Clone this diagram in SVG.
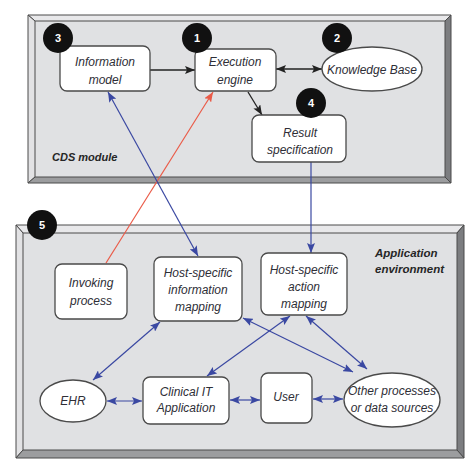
<svg xmlns="http://www.w3.org/2000/svg" width="474" height="466" viewBox="0 0 474 466">
<defs>
<style>
.bg{fill:#ffffff}
.pin{fill:#e0e1e3}
.edge{stroke:#4a4a4a;stroke-width:1;stroke-linejoin:round}
.bt{fill:#e8e8ea}
.bl{fill:#e2e2e4}
.br{fill:#7c7d80}
.bb{fill:#9c9d9f}
.node{fill:#ffffff;stroke:#4a4a4a;stroke-width:1.3}
.t{font-family:"Liberation Sans",Arial,sans-serif;font-style:italic;font-size:12px;fill:#2e2e36;text-anchor:middle}
.lbl{font-family:"Liberation Sans",Arial,sans-serif;font-style:italic;font-weight:bold;fill:#262626}
.badge{fill:#111111}
.num{font-family:"Liberation Sans",Arial,sans-serif;font-weight:bold;font-size:11px;fill:#ffffff;text-anchor:middle}
.k{stroke:#222222;stroke-width:1.3;fill:none}
.b{stroke:#3a48a2;stroke-width:1.2;fill:none}
.r{stroke:#ea5b48;stroke-width:1.2;fill:none}
</style>
<marker id="ak" viewBox="0 0 10 8" refX="10" refY="4" markerWidth="10" markerHeight="8" markerUnits="userSpaceOnUse" orient="auto-start-reverse"><path d="M0,0 L10,4 L0,8 L2,4 z" fill="#222222"/></marker>
<marker id="ab" viewBox="0 0 10 8" refX="10" refY="4" markerWidth="10" markerHeight="8" markerUnits="userSpaceOnUse" orient="auto-start-reverse"><path d="M0,0 L10,4 L0,8 L2,4 z" fill="#3a48a2"/></marker>
<marker id="ar" viewBox="0 0 10 8" refX="10" refY="4" markerWidth="10" markerHeight="8" markerUnits="userSpaceOnUse" orient="auto"><path d="M0,0 L10,4 L0,8 L2,4 z" fill="#ea5b48"/></marker>
</defs>
<rect class="bg" x="0" y="0" width="474" height="466"/>

<g id="cds-module">
<rect class="pin" x="35" y="21" width="410" height="156"/>
<polygon class="bt edge" points="28,15 451,15 445,21 35,21"/>
<polygon class="bl edge" points="28,15 35,21 35,177 28,183"/>
<polygon class="br edge" points="451,15 451,183 445,177 445,21"/>
<polygon class="bb edge" points="28,183 451,183 445,177 35,177"/>
<text class="lbl" x="52" y="161" font-size="11">CDS module</text>
</g>

<g id="application-environment">
<rect class="pin" x="23" y="233" width="434" height="217"/>
<polygon class="bt edge" points="16,225 464,225 457,233 23,233"/>
<polygon class="bl edge" points="16,225 23,233 23,450 16,458"/>
<polygon class="br edge" points="464,225 464,458 457,450 457,233"/>
<polygon class="bb edge" points="16,458 464,458 457,450 23,450"/>
<text class="lbl" x="375" y="257" font-size="11.5">Application</text>
<text class="lbl" x="375" y="273" font-size="11.5">environment</text>
</g>

<g id="connectors">
<line class="k" x1="150" y1="70" x2="195" y2="70" marker-end="url(#ak)"/>
<line class="k" x1="276" y1="69" x2="322" y2="69" marker-start="url(#ak)" marker-end="url(#ak)"/>
<line class="k" x1="248" y1="92" x2="262" y2="115" marker-end="url(#ak)"/>
<line class="r" x1="106" y1="263" x2="213" y2="92" marker-end="url(#ar)"/>
<line class="b" x1="108" y1="92" x2="198" y2="256" marker-start="url(#ab)" marker-end="url(#ab)"/>
<line class="b" x1="311" y1="162" x2="311" y2="253" marker-end="url(#ab)"/>
<line class="b" x1="93" y1="380" x2="160" y2="322" marker-start="url(#ab)" marker-end="url(#ab)"/>
<line class="b" x1="243" y1="318" x2="353" y2="372" marker-start="url(#ab)" marker-end="url(#ab)"/>
<line class="b" x1="290" y1="316" x2="207" y2="376" marker-start="url(#ab)" marker-end="url(#ab)"/>
<line class="b" x1="306" y1="316" x2="367" y2="369" marker-start="url(#ab)" marker-end="url(#ab)"/>
<line class="b" x1="107" y1="401" x2="142" y2="401" marker-start="url(#ab)" marker-end="url(#ab)"/>
<line class="b" x1="230" y1="400" x2="260" y2="400" marker-start="url(#ab)" marker-end="url(#ab)"/>
<line class="b" x1="313" y1="399" x2="343" y2="399" marker-start="url(#ab)" marker-end="url(#ab)"/>
</g>

<g id="information-model">
<rect class="node" x="60" y="46" width="90" height="45" rx="7"/>
<text class="t" x="105" y="66">Information</text>
<text class="t" x="105" y="84">model</text>
<circle class="badge" cx="58" cy="38" r="15"/>
<text class="num" x="58" y="42">3</text>
</g>

<g id="execution-engine">
<rect class="node" x="195" y="49" width="81" height="42" rx="7"/>
<text class="t" x="235" y="66">Execution</text>
<text class="t" x="235" y="84">engine</text>
<circle class="badge" cx="197" cy="38" r="15"/>
<text class="num" x="197" y="42">1</text>
</g>

<g id="knowledge-base">
<ellipse class="node" cx="372" cy="69" rx="50" ry="22"/>
<text class="t" x="372" y="74" font-size="11">Knowledge Base</text>
<circle class="badge" cx="337" cy="38" r="15"/>
<text class="num" x="337" y="42">2</text>
</g>

<g id="result-specification">
<rect class="node" x="252" y="115" width="94" height="47" rx="7"/>
<text class="t" x="300" y="137">Result</text>
<text class="t" x="300" y="154">specification</text>
<circle class="badge" cx="311" cy="103" r="15"/>
<text class="num" x="311" y="107">4</text>
</g>

<g id="badge-5">
<circle class="badge" cx="42" cy="225" r="15"/>
<text class="num" x="42" y="229">5</text>
</g>

<g id="invoking-process">
<rect class="node" x="55" y="264" width="72" height="55" rx="7"/>
<text class="t" x="91" y="287">Invoking</text>
<text class="t" x="91" y="305">process</text>
</g>

<g id="host-info-mapping">
<rect class="node" x="154" y="257" width="88" height="64" rx="7"/>
<text class="t" x="198" y="277">Host-specific</text>
<text class="t" x="198" y="294">information</text>
<text class="t" x="198" y="311">mapping</text>
</g>

<g id="host-action-mapping">
<rect class="node" x="261" y="253" width="86" height="62" rx="7"/>
<text class="t" x="304" y="274">Host-specific</text>
<text class="t" x="304" y="291">action</text>
<text class="t" x="304" y="308">mapping</text>
</g>

<g id="ehr">
<ellipse class="node" cx="73" cy="401" rx="33" ry="21"/>
<text class="t" x="73" y="405">EHR</text>
</g>

<g id="clinical-it">
<rect class="node" x="143" y="377" width="86" height="47" rx="7"/>
<text class="t" x="186" y="396">Clinical IT</text>
<text class="t" x="186" y="412">Application</text>
</g>

<g id="user">
<rect class="node" x="261" y="373" width="51" height="50" rx="7"/>
<text class="t" x="286" y="401">User</text>
</g>

<g id="other-processes">
<ellipse class="node" cx="392" cy="400" rx="48" ry="27"/>
<text class="t" x="392" y="395" font-size="11">Other processes</text>
<text class="t" x="392" y="412" font-size="11">or data sources</text>
</g>
</svg>
